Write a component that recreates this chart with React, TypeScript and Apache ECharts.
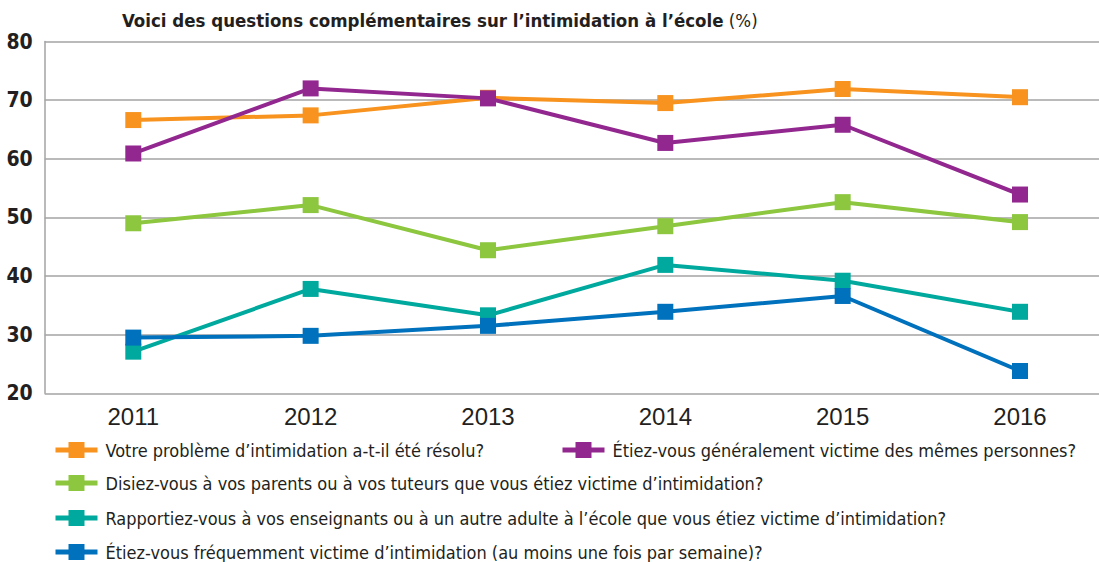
import React, { useEffect, useRef } from "react";
import * as echarts from "echarts";

const years = ["2011", "2012", "2013", "2014", "2015", "2016"];
const seriesNames = [
  "Votre problème d’intimidation a-t-il été résolu?",
  "Étiez-vous généralement victime des mêmes personnes?",
  "Disiez-vous à vos parents ou à vos tuteurs que vous étiez victime d’intimidation?",
  "Rapportiez-vous à vos enseignants ou à un autre adulte à l’école que vous étiez victime d’intimidation?",
  "Étiez-vous fréquemment victime d’intimidation (au moins une fois par semaine)?",
];
const resolved = [66.6, 67.4, 70.4, 69.5, 71.9, 70.5];
const sameBullies = [60.9, 72.0, 70.3, 62.7, 65.8, 53.9];
const toldParents = [49.0, 52.1, 44.4, 48.5, 52.6, 49.2];
const toldTeachers = [27.1, 37.8, 33.3, 41.9, 39.2, 33.9];
const frequent = [29.5, 29.8, 31.5, 33.9, 36.6, 23.8];
const colors = ["#F7931E", "#92278F", "#8DC63F", "#00A99D", "#0071BC"];
const yTicks = { min: 20, max: 80, interval: 10 };

const NARROW = "'Liberation Sans Narrow', 'DejaVu Sans Condensed', sans-serif";
const TEXT = "#231f20";
const GRID = "#a3a3a3";

export default function App() {
  const ref = useRef<HTMLDivElement>(null);
  useEffect(() => {
    if (!ref.current) return;
    const chart = echarts.init(ref.current, null, { renderer: "svg" });
    const values = [resolved, sameBullies, toldParents, toldTeachers, frequent];
    const legendPos = [
      { left: 53, top: 441 },
      { left: 560, top: 441 },
      { left: 53, top: 474 },
      { left: 53, top: 509 },
      { left: 53, top: 543 },
    ];
    const top = 41.5;
    const bottom = 168.7;
    chart.setOption({
      animation: false,
      title: {
        left: 122,
        top: 11,
        padding: 0,
        text: "{b|Voici des questions complémentaires sur l’intimidation à l’école}{n| (%)}",
        textStyle: {
          rich: {
            b: { fontFamily: NARROW, fontWeight: "bold", fontSize: 18.5, color: TEXT },
            n: { fontFamily: NARROW, fontWeight: "normal", fontSize: 18.5, color: TEXT },
          },
        },
      },
      legend: seriesNames.map((n, i) => ({
        data: [n],
        left: legendPos[i].left,
        top: legendPos[i].top,
        itemWidth: 42,
        itemHeight: 20,
        padding: 0,
        selectedMode: false,
        lineStyle: { width: 5 },
        textStyle: {
          fontFamily: NARROW,
          fontSize: 18,
          color: TEXT,
          padding: [0, 0, 0, 3],
        },
      })),
      grid: [
        { left: 44.7, right: 0, top, bottom },
        { left: 133.3, right: 79, top, bottom },
      ],
      xAxis: [
        { type: "value", gridIndex: 0, show: false, min: 0, max: 1 },
        {
          type: "category",
          gridIndex: 1,
          data: years,
          boundaryGap: false,
          axisLine: { show: false },
          axisTick: { show: false },
          splitLine: { show: false },
          axisLabel: {
            fontFamily: "'Liberation Sans', sans-serif",
            fontSize: 24,
            color: TEXT,
            margin: 11,
          },
        },
      ],
      yAxis: [
        {
          type: "value",
          gridIndex: 0,
          min: yTicks.min,
          max: yTicks.max,
          interval: yTicks.interval,
          axisLine: { show: true, lineStyle: { color: GRID, width: 1.5 } },
          axisTick: { show: false },
          splitLine: { show: true, lineStyle: { color: GRID, width: 1.5 } },
          axisLabel: {
            fontFamily: NARROW,
            fontWeight: "bold",
            fontSize: 21,
            color: TEXT,
            margin: 12,
          },
        },
        {
          type: "value",
          gridIndex: 1,
          min: yTicks.min,
          max: yTicks.max,
          interval: yTicks.interval,
          show: false,
          splitLine: { show: false },
        },
      ],
      series: seriesNames.map((n, i) => ({
        name: n,
        type: "line",
        xAxisIndex: 1,
        yAxisIndex: 1,
        data: values[i],
        symbol: "rect",
        symbolSize: 16,
        color: colors[i],
        itemStyle: { color: colors[i] },
        lineStyle: { color: colors[i], width: 4 },
      })),
    });
    return () => chart.dispose();
  }, []);
  return (
    <div
      ref={ref}
      style={{ position: "absolute", left: 0, top: 0, width: 1099, height: 562 }}
    />
  );
}
